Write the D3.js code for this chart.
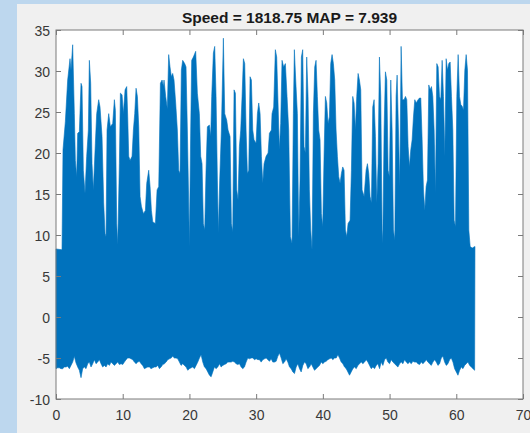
<!DOCTYPE html>
<html>
<head>
<meta charset="utf-8">
<script src="https://cdn.jsdelivr.net/npm/d3@7"></script>
<style>
  html, body { margin: 0; padding: 0; background: #bdd7ee; }
  svg { display: block; }
  .tick text { font-family: "Liberation Sans", Arial, sans-serif; font-size: 14px; fill: #383838; }
</style>
</head>
<body>
<svg id="chart" width="530" height="433"></svg>
<script>
// Title shown above the axes
const titleText = "Speed = 1818.75 MAP = 7.939";

// Axis ticks
const xTicks = [0, 10, 20, 30, 40, 50, 60, 70];
const yTicks = [-10, -5, 0, 5, 10, 15, 20, 25, 30, 35];

// Upper envelope of the signal: sample times (s) and peak values
const upperT = [
  0, 0.9, 1.05, 1.4, 1.75, 2.1, 2.25, 2.5, 2.75, 2.9, 3.1, 3.25, 3.5, 3.75, 3.9, 4.1, 4.35, 4.6, 4.85,
  5.0, 5.2, 5.4, 5.6, 5.9, 6.1, 6.4, 6.6, 6.9, 7.15, 7.35, 7.5, 7.65, 7.9, 8.15, 8.5, 8.75, 8.9, 9.1,
  9.25, 9.5, 9.65, 9.9, 10.1, 10.35, 10.6, 10.75, 10.9, 11.1, 11.4, 11.6, 11.8, 12.0, 12.2, 12.4, 12.6,
  12.8, 13.1, 13.4, 13.6, 13.9, 14.1, 14.3, 14.5, 14.9, 15.15, 15.4, 15.65, 15.9, 16.1,
  16.19, 16.44, 16.69, 16.89, 17.09, 17.29, 17.49, 17.69, 17.94, 18.19, 18.39, 18.59, 18.79, 18.99,
  19.29, 19.49, 19.69, 19.89, 19.99, 20.19, 20.34, 20.59, 20.94, 21.19, 21.49, 21.69, 21.89, 22.09,
  22.29, 22.49, 22.69, 22.99, 23.19, 23.34, 23.59, 23.79, 23.99, 24.19, 24.34, 24.54, 24.79, 25.09,
  25.29, 25.59, 25.79, 26.09, 26.29, 26.49, 26.69, 26.89, 27.09, 27.29, 27.49, 27.69, 27.89, 28.09,
  28.29, 28.49, 28.69, 28.89, 29.09, 29.29, 29.49, 29.69, 29.99, 30.19, 30.39, 30.59, 30.79, 30.99,
  31.19, 31.49, 31.79, 31.99, 32.29,
  32.38, 32.63, 32.88, 33.08, 33.28, 33.48, 33.68, 33.88, 34.13, 34.38, 34.63, 34.88, 35.13, 35.38,
  35.58, 35.73, 35.93, 36.18, 36.38, 36.58, 36.78, 36.98, 37.18, 37.38, 37.58, 37.78, 37.98, 38.18,
  38.38, 38.58, 38.78, 38.98, 39.18, 39.38, 39.58, 39.78, 39.98, 40.18, 40.38, 40.58, 40.78, 40.98,
  41.18, 41.38, 41.58, 41.78, 41.98, 42.18, 42.38, 42.58, 42.78, 42.98, 43.18, 43.38, 43.58, 43.78,
  44.08, 44.28, 44.48, 44.68, 44.88, 45.08, 45.28, 45.48, 45.68, 45.88, 46.18, 46.48, 46.68, 46.88,
  47.08, 47.28, 47.48, 47.68, 47.88, 48.08, 48.28, 48.48,
  48.68, 48.88, 48.98, 49.18, 49.38, 49.58, 49.78, 49.98, 50.18, 50.38, 50.58, 50.78, 50.98, 51.13,
  51.33, 51.53, 51.73, 51.93, 52.18, 52.38, 52.58, 52.78, 52.98, 53.18, 53.38, 53.58, 53.78, 53.98,
  54.28, 54.48, 54.68, 54.88, 55.08, 55.28, 55.48, 55.68, 55.88, 56.08, 56.28, 56.48, 56.68, 56.88,
  57.08, 57.28, 57.48, 57.68, 57.88, 58.08, 58.28, 58.48, 58.68, 58.88, 59.08, 59.28, 59.48, 59.68,
  59.88, 60.08, 60.28, 60.48, 60.68, 60.88, 61.08, 61.28, 61.48, 61.68, 61.88, 62.08, 62.38, 62.8
];
const upperV = [
  8.3, 8.2, 20.4, 23.8, 28.9, 31.5, 30.1, 33.2, 24.8, 19.1, 17.1, 22.4, 22.6, 28.5, 28.1, 17.9, 15.1, 19.6, 22.8,
  31.3, 28.5, 18.7, 15.5, 21.2, 24.8, 26.5, 25.6, 22.0, 13.9, 10.2, 9.8, 22.8, 24.8, 23.2, 23.6, 26.5, 25.2, 11.4,
  8.8, 18.7, 27.3, 27.1, 24.8, 27.7, 28.1, 24.4, 19.6, 19.1, 19.6, 22.8, 24.8, 27.9, 26.9, 23.2, 14.7,
  13.5, 12.6, 13.0, 16.3, 17.9, 15.9, 13.0, 11.6, 11.4, 15.5, 15.9, 28.5, 28.9, 28.1,
  28.9, 26.9, 25.4, 32.0, 30.5, 29.3, 29.7, 28.9, 26.1, 22.8, 17.9, 17.5, 30.1, 31.3,
  30.9, 30.5, 22.8, 13.9, 8.6, 22.8, 31.3, 31.7, 32.4, 27.3, 24.8, 19.6, 18.7, 11.4,
  10.6, 17.9, 23.2, 23.4, 22.0, 26.9, 32.2, 33.0, 26.9, 16.7, 10.2, 16.7, 22.8, 34.0,
  24.8, 24.0, 22.8, 22.0, 11.4, 10.4, 27.7, 27.3, 15.5, 14.3, 20.8, 22.8, 26.9, 31.5,
  30.9, 22.8, 17.5, 17.9, 29.3, 28.9, 22.8, 21.6, 21.2, 24.8, 26.1, 24.8, 19.6, 16.3,
  18.7, 19.6, 20.0, 22.4, 22.8,
  24.8, 25.6, 32.6, 31.7, 26.1, 20.4, 23.6, 31.3, 30.5, 30.9, 26.9, 22.8, 9.8, 9.0,
  24.8, 32.6, 28.9, 24.8, 9.8, 16.7, 31.7, 32.6, 20.8, 20.0, 31.7, 26.9, 15.5, 10.6,
  8.2, 24.8, 30.5, 31.3, 26.9, 22.8, 21.6, 12.6, 11.0, 19.6, 26.9, 26.1, 23.6, 24.4,
  30.9, 32.0, 30.9, 28.9, 22.8, 19.6, 17.1, 16.3, 17.5, 18.3, 17.9, 10.6, 9.8, 11.4,
  11.8, 17.9, 26.9, 26.1, 22.8, 26.9, 29.7, 28.9, 27.7, 15.5, 14.7, 17.9, 18.7, 17.5,
  14.7, 13.9, 25.6, 26.5, 22.0, 13.9, 18.7, 31.7,
  26.9, 10.6, 9.0, 22.8, 29.9, 28.9, 17.9, 17.1, 28.9, 22.8, 10.6, 9.4, 26.9, 29.5,
  22.8, 15.9, 33.0, 26.5, 26.5, 26.9, 26.5, 20.8, 18.3, 20.4, 21.6, 24.4, 26.5, 26.1,
  26.5, 26.7, 26.7, 21.6, 15.5, 13.0, 15.9, 16.7, 28.3, 27.7, 28.1, 26.9, 22.8, 15.1,
  30.9, 30.5, 26.9, 26.5, 31.3, 26.9, 19.6, 31.5, 30.1, 30.9, 31.1, 26.9, 22.8, 11.8,
  11.0, 26.9, 32.0, 26.9, 25.9, 25.7, 25.2, 30.1, 32.0, 30.1, 10.6, 8.6, 8.4, 8.6
];

// Lower envelope of the signal, one trough value every lowerStep seconds from t = 0
const lowerStep = 0.25;
const lowerV = [
  -6.3, -6.2, -6.2, -6.3, -6.3, -6.1, -6.1, -6.0, -6.3, -5.9, -5.5, -4.8, -5.6, -6.1, -6.5, -7.4,
  -6.3, -6.1, -6.3, -5.7, -5.5, -6.1, -5.7, -5.2, -5.7, -5.5, -5.2, -5.7, -6.1, -5.9, -6.1, -5.7,
  -5.9, -5.5, -5.7, -5.9, -5.7, -5.5, -5.8, -5.7, -5.8, -5.5, -5.2, -5.0, -5.0, -5.1, -5.2, -5.5,
  -5.7, -5.5, -5.4, -5.7, -5.9, -6.3, -6.2, -6.1, -6.1, -6.3, -6.2, -6.1, -6.1, -5.9, -6.3, -6.1,
  -5.8, -5.7, -5.5, -5.2, -5.1, -5.0, -4.8, -5.0, -5.0, -5.1, -5.5, -5.9, -5.7, -5.9, -6.1, -6.5,
  -6.3, -6.2, -6.1, -6.3, -5.9, -5.5, -5.0, -4.6, -5.5, -6.1, -6.3, -6.7, -7.1, -7.3, -6.7, -6.1,
  -6.3, -6.1, -5.7, -6.1, -5.9, -5.8, -5.7, -5.5, -5.5, -5.5, -5.4, -5.5, -5.7, -5.8, -5.7, -6.1,
  -6.3, -6.1, -5.5, -5.0, -5.1, -5.0, -5.0, -5.2, -5.1, -5.2, -5.2, -5.5, -5.2, -5.1, -5.0, -5.2,
  -5.4, -5.1, -5.5, -5.5, -5.4, -4.8, -4.4, -5.0, -5.7, -5.5, -5.1, -5.5, -6.1, -6.3, -6.7, -6.9,
  -6.1, -5.7, -6.3, -6.7, -5.9, -5.5, -5.7, -6.3, -6.1, -5.7, -6.1, -6.5, -6.3, -6.1, -5.9, -5.5,
  -5.7, -5.5, -5.4, -5.2, -5.1, -5.0, -5.2, -5.0, -5.0, -4.6, -5.0, -5.5, -5.7, -6.1, -6.3, -6.7,
  -7.1, -6.7, -6.3, -6.1, -6.3, -5.9, -5.7, -5.5, -5.7, -5.5, -5.2, -5.5, -5.9, -6.3, -6.1, -6.3,
  -5.9, -5.7, -6.3, -5.5, -5.9, -5.2, -5.0, -5.5, -5.7, -5.2, -5.5, -5.7, -5.9, -6.1, -5.7, -5.5,
  -5.7, -5.2, -5.5, -5.7, -5.5, -5.7, -5.4, -5.5, -5.5, -5.7, -5.8, -5.5, -5.7, -5.5, -5.2, -5.5,
  -5.7, -5.9, -5.5, -5.2, -5.5, -5.9, -5.7, -5.0, -4.8, -5.5, -5.9, -5.7, -5.2, -5.0, -5.5, -6.3,
  -6.7, -7.1, -6.5, -6.1, -6.3, -5.9, -5.7, -5.5, -5.9, -6.1, -6.3, -6.5
];

const svg = d3.select("#chart");
const W = 530, H = 433;
const plot = { left: 56, right: 523, top: 30, bottom: 399 };

// Figure window background
svg.append("rect").attr("x", 17).attr("y", 4).attr("width", W - 17).attr("height", H - 4).attr("fill", "#f0f0f0");

const x = d3.scaleLinear().domain([xTicks[0], xTicks[xTicks.length - 1]]).range([plot.left, plot.right]);
const y = d3.scaleLinear().domain([yTicks[0], yTicks[yTicks.length - 1]]).range([plot.bottom, plot.top]);

// Axes background
svg.append("rect")
  .attr("x", plot.left).attr("y", plot.top)
  .attr("width", plot.right - plot.left).attr("height", plot.bottom - plot.top)
  .attr("fill", "#ffffff");

// Signal band: upper envelope forward, lower envelope back
const upperPts = upperT.map((t, i) => [t, upperV[i]]);
const lowerPts = lowerV.map((v, i) => [i * lowerStep, v]);
const band = upperPts.concat(lowerPts.slice().reverse());
const line = d3.line().x(d => x(d[0])).y(d => y(d[1]));

svg.append("path")
  .attr("d", line(band) + "Z")
  .attr("fill", "#0072bd")
  .attr("stroke", "#0072bd")
  .attr("stroke-width", 0.6)
  .attr("stroke-linejoin", "round");

// Axes with inward ticks on all four sides; plain hyphen for negatives
const tickLen = 5;
const axisColor = "#7a7a7a";
const fmt = d => String(d);

const gB = svg.append("g").attr("transform", `translate(0,${plot.bottom})`)
  .call(d3.axisBottom(x).tickValues(xTicks).tickSize(-tickLen).tickPadding(11.5).tickFormat(fmt));
const gL = svg.append("g").attr("transform", `translate(${plot.left},0)`)
  .call(d3.axisLeft(y).tickValues(yTicks).tickSize(-tickLen).tickPadding(6).tickFormat(fmt));
const gT = svg.append("g").attr("transform", `translate(0,${plot.top})`)
  .call(d3.axisTop(x).tickValues(xTicks).tickSize(-tickLen).tickFormat(""));
const gR = svg.append("g").attr("transform", `translate(${plot.right},0)`)
  .call(d3.axisRight(y).tickValues(yTicks).tickSize(-tickLen).tickFormat(""));

[gB, gL, gT, gR].forEach(g => {
  g.select(".domain").remove();
  g.selectAll(".tick line").attr("stroke", axisColor);
});
gL.selectAll(".tick text").attr("dy", "0.4em");

// Axes box
svg.append("rect")
  .attr("x", plot.left).attr("y", plot.top)
  .attr("width", plot.right - plot.left).attr("height", plot.bottom - plot.top)
  .attr("fill", "none").attr("stroke", axisColor).attr("stroke-width", 1);

// Title
svg.append("text")
  .attr("x", (plot.left + plot.right) / 2).attr("y", 22.5)
  .attr("text-anchor", "middle")
  .attr("font-family", "'Liberation Sans', Arial, sans-serif")
  .attr("font-size", 15.5).attr("font-weight", "bold")
  .attr("fill", "#1a1a1a")
  .text(titleText);
</script>
</body>
</html>
